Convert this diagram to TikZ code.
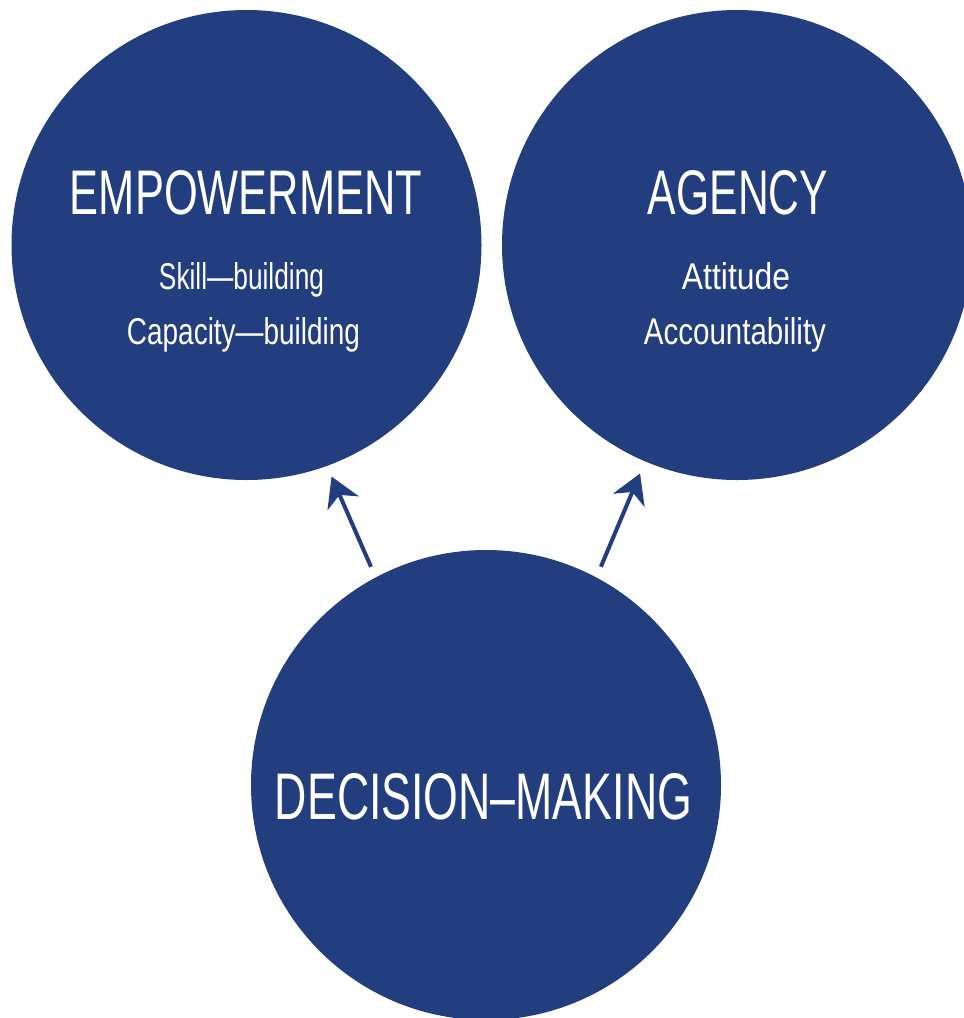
\documentclass[tikz,border=0pt]{standalone}
\usepackage{fontspec}
\setmainfont{Liberation Sans}
\usetikzlibrary{arrows.meta}
\definecolor{navy}{RGB}{35,62,127}
% fit a label to a given width and height (cap / ascender height)
\newcommand{\fitlabel}[3]{\resizebox{#1pt}{#2pt}{#3}}
\begin{document}
\begin{tikzpicture}[x=1pt,y=-1pt,
  bubble/.style={circle,fill=navy,draw=none,minimum size=470pt,inner sep=0pt},
  label/.style={anchor=base,inner sep=0pt,text=white},
  link/.style={draw=navy,line width=4pt,
    -{Stealth[length=29pt,width=34pt,inset=9pt]}}]
  \useasboundingbox (0,0) rectangle (964,1018);
  \clip (0,0) rectangle (964,1018);

  % the three circles
  \node[bubble] (emp) at (246.5,245) {};
  \node[bubble] (agc) at (737,245) {};
  \node[bubble] (dm)  at (486,785) {};

  % circle titles and sub-items
  \node[label] (empT) at (246,214) {\fitlabel{352}{44}{EMPOWERMENT}};
  \node[label] (empA) at (241.5,289) {\fitlabel{165}{27}{Skill—building}};
  \node[label] (empB) at (243.5,344) {\fitlabel{233}{27}{Capacity—building}};

  \node[label] (agcT) at (738,214) {\fitlabel{180}{44}{AGENCY}};
  \node[label] (agcA) at (736,289) {\fitlabel{108}{27}{Attitude}};
  \node[label] (agcB) at (735,344) {\fitlabel{182}{27}{Accountability}};

  \node[label] (dmT) at (483.5,819) {\fitlabel{417}{46}{DECISION–MAKING}};

  % arrows from decision-making up to the two outcomes
  \draw[link,shorten <=11.5pt,shorten >=11.5pt] (dm.118) -- (emp.-70);
  \draw[link,shorten <=11.5pt,shorten >=13pt] (dm.62) -- (agc.-113);
\end{tikzpicture}
\end{document}
